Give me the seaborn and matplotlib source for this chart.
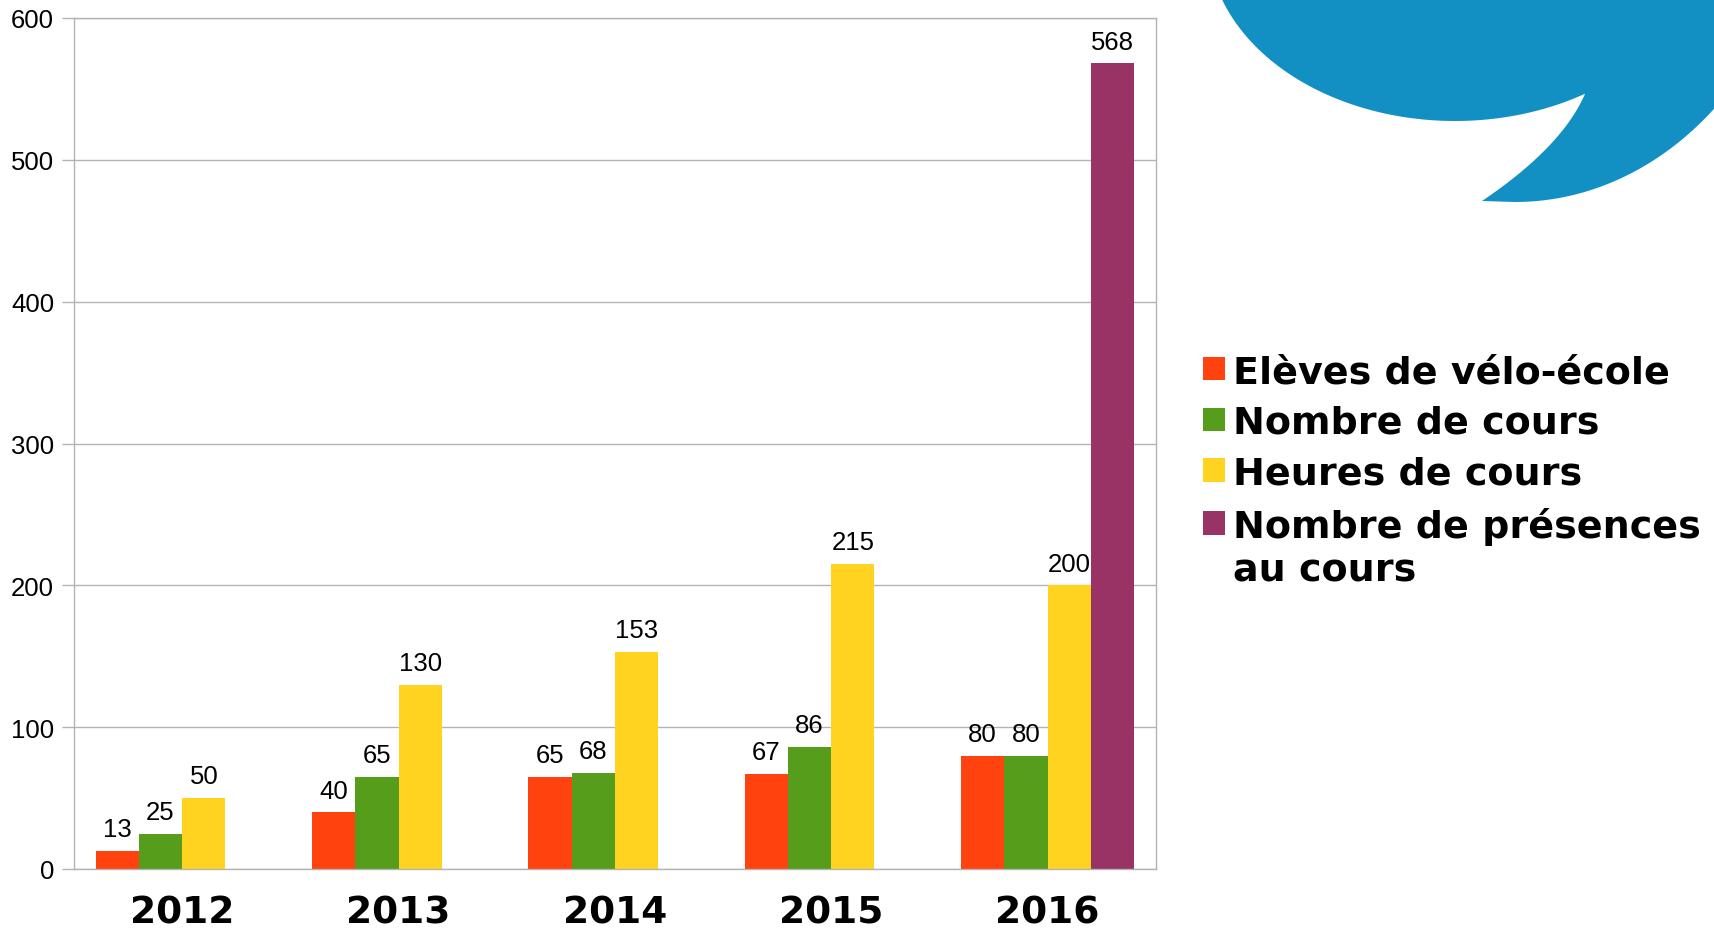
import numpy as np
import pandas as pd
import seaborn as sns
import matplotlib
matplotlib.use('Agg')
from matplotlib import pyplot as plt
from matplotlib.patches import Polygon, Patch
from matplotlib.transforms import Affine2D

years = ['2012', '2013', '2014', '2015', '2016']
series = ['Elèves de vélo-école', 'Nombre de cours', 'Heures de cours', 'Nombre de présences']
eleves = [13, 40, 65, 67, 80]
cours = [25, 65, 68, 86, 80]
heures = [50, 130, 153, 215, 200]
presences = [np.nan, np.nan, np.nan, np.nan, 568]
colors = ['#ff420e', '#579d1c', '#ffd320', '#993366']

df = pd.DataFrame({
    'annee': years * 4,
    'serie': np.repeat(series, len(years)),
    'valeur': eleves + cours + heures + presences,
}).dropna()

sns.set_style('white')
plt.rcParams['font.family'] = ['Liberation Sans', 'DejaVu Sans']
plt.rcParams.update({'text.color': 'black', 'xtick.labelcolor': 'black',
                     'ytick.labelcolor': 'black'})

W, H = 1715, 929
fig = plt.figure(figsize=(W / 100, H / 100), dpi=100)
ax = fig.add_axes([74 / W, 1 - 870 / H, (1155.7 - 74) / W, 851 / H])

# blue logo shape in the top right corner (pixel coords, y going down)
t1 = np.linspace(3.0, 1.016, 120)
e1 = np.column_stack([1455 + 247 * np.cos(t1), -60 + 182 * np.sin(t1)])
tip = e1[-1]
s = np.linspace(0, 1, 40)[:, None]
ctrl = np.array([1562, 148])
end = np.array([1482, 202])
tail = (1 - s) ** 2 * tip + 2 * (1 - s) * s * ctrl + s ** 2 * end
t2 = np.linspace(np.pi / 2, 0.3, 80)
e2 = np.column_stack([1515 + 294 * np.cos(t2), -150 + 353 * np.sin(t2)])
shape = np.vstack([e1, tail, e2, [[1800, -100], [1200, -100]]])
to_fig = Affine2D().scale(1 / W, -1 / H).translate(0, 1) + fig.transFigure
fig.add_artist(Polygon(shape, closed=True, facecolor='#1290c3', edgecolor='none',
                       transform=to_fig, zorder=0))

sns.barplot(data=df, x='annee', y='valeur', hue='serie', hue_order=series, order=years,
            palette=colors, saturation=1, errorbar=None, width=0.8, linewidth=0,
            legend=False, ax=ax)

for c in ax.containers:
    ax.bar_label(c, fmt='{:.0f}', padding=7, fontsize=18.5, color='black')

ax.set_xlim(-0.5, 4.5)
ax.set_ylim(0, 600)
ax.set_yticks(np.arange(0, 601, 100))
ax.set_xticks(np.arange(-0.5, 5, 1), minor=True)
ax.set_xticklabels(years, fontweight='bold', fontsize=27, family='DejaVu Sans', color='black')
ax.tick_params(axis='x', which='major', length=0, pad=18.5)
ax.tick_params(axis='x', which='minor', length=7.2, width=1, color='#b3b3b3', direction='out')
ax.tick_params(axis='y', length=8.6, width=1, color='#b3b3b3', direction='out', pad=5.7,
               labelsize=18.5, left=True, labelcolor='black')
ax.set_xlabel('')
ax.set_ylabel('')
ax.grid(axis='y', color='#b3b3b3', linewidth=1)
ax.set_axisbelow(True)
for sp in ax.spines.values():
    sp.set_color('#b3b3b3')
    sp.set_linewidth(1)

handles = [Patch(facecolor=col, edgecolor='none') for col in colors]
leg = fig.legend(handles, series, loc='upper left', bbox_to_anchor=(1203 / W, 1 - 355 / H),
                 frameon=False, borderpad=0, borderaxespad=0, handlelength=0.58,
                 handleheight=0.58, handletextpad=0.2, labelspacing=0.39,
                 prop={'family': 'DejaVu Sans', 'weight': 'bold', 'size': 27.4})
for t in leg.get_texts():
    t.set_color('black')

fig.canvas.draw()
last = leg.get_texts()[-1]
bx, by = last.get_transform().transform((0, 0))
fx, fy = fig.transFigure.inverted().transform((bx, by - 44))
fig.text(fx, fy, 'au cours', ha='left', va='baseline', color='black',
         family='DejaVu Sans', fontweight='bold', fontsize=27.4)

fig.savefig('out.png', dpi=100)
